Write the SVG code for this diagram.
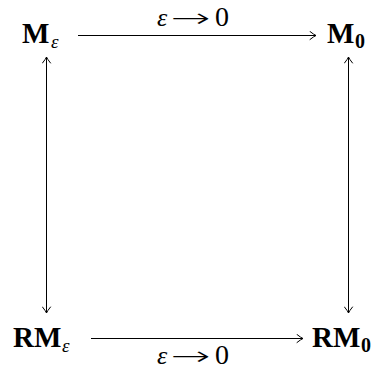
<svg xmlns="http://www.w3.org/2000/svg" width="382" height="374" viewBox="0 0 382 374">
<style>
.n{font-family:"Liberation Serif",serif;font-weight:bold;font-size:29px;fill:#000}
.s{font-family:"Liberation Serif",serif;font-style:italic;font-size:19px;fill:#000}
.z{font-family:"Liberation Serif",serif;font-weight:bold;font-size:20px;fill:#000}
.l{font-family:"Liberation Serif",serif;font-size:28px;fill:#000}
.a{font-family:"DejaVu Sans",sans-serif;font-weight:200;font-size:26px;fill:#000}
.li{font-family:"Liberation Serif",serif;font-style:italic;font-size:26px;fill:#000}
.c{stroke:#000;stroke-width:1;fill:none}
</style>
<defs>
<marker id="ah" viewBox="-8 -5 10 10" markerWidth="10" markerHeight="10" refX="0" refY="0" orient="auto-start-reverse" markerUnits="userSpaceOnUse">
<path d="M-6,-4 Q-2,-0.8 0,0 Q-2,0.8 -6,4" fill="none" stroke="#000" stroke-width="1" stroke-linecap="round"/>
</marker>
</defs>
<g id="connectors">
<line class="c" x1="78" y1="35.5" x2="316" y2="35.5" marker-end="url(#ah)"/>
<line class="c" x1="91" y1="338.5" x2="303" y2="338.5" marker-end="url(#ah)"/>
<line class="c" x1="46.5" y1="57" x2="46.5" y2="313" marker-start="url(#ah)" marker-end="url(#ah)"/>
<line class="c" x1="348.5" y1="57" x2="348.5" y2="313" marker-start="url(#ah)" marker-end="url(#ah)"/>
</g>
<g id="label-top">
<text class="li" x="157" y="26">ε</text>
<text class="a" x="171" y="27" textLength="40" lengthAdjust="spacingAndGlyphs">→</text>
<text class="l" x="215" y="26">0</text>
</g>
<g id="label-bottom">
<text class="li" x="157" y="364">ε</text>
<text class="a" x="171" y="365" textLength="40" lengthAdjust="spacingAndGlyphs">→</text>
<text class="l" x="215" y="364">0</text>
</g>
<g id="M_eps">
<text class="n" x="22" y="43">M</text>
<text class="s" x="51" y="48">ε</text>
</g>
<g id="M_0">
<text class="n" x="327" y="43">M</text>
<text class="z" x="355" y="48">0</text>
</g>
<g id="RM_eps">
<text class="n" x="13" y="347">RM</text>
<text class="s" x="62" y="352">ε</text>
</g>
<g id="RM_0">
<text class="n" x="312" y="347">RM</text>
<text class="z" x="361" y="352">0</text>
</g>
</svg>
